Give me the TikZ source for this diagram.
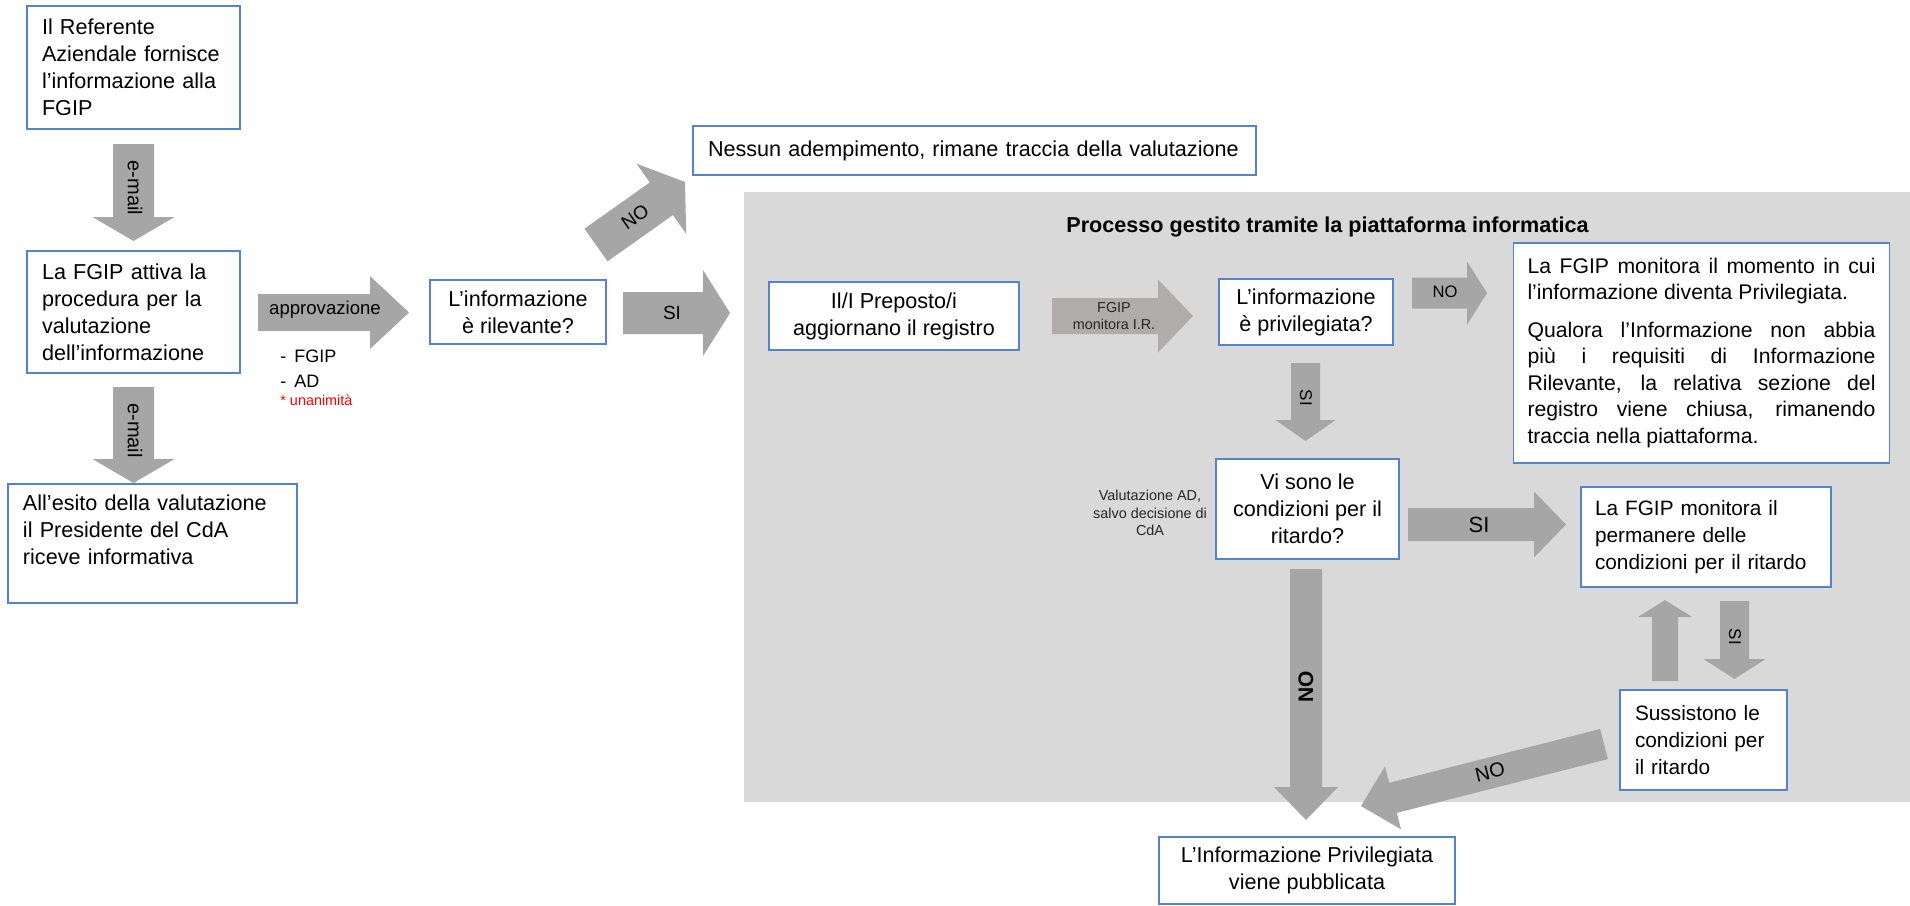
\documentclass[tikz,border=0pt]{standalone}
\usepackage{fontspec}
\setmainfont{Liberation Sans}
\usetikzlibrary{calc}
\definecolor{boxblue}{RGB}{84,130,205}
\definecolor{arrowgrey}{RGB}{166,166,166}
\definecolor{fgipgrey}{RGB}{176,172,172}
\definecolor{bggrey}{RGB}{217,217,217}
\definecolor{redtxt}{RGB}{255,0,0}
\definecolor{darktxt}{RGB}{38,38,38}
\newcommand\fs[2]{\fontsize{#1}{#2}\selectfont}
% block arrow from named tail #2 to named tip #3; shaft width #4, head width #5, head length #6 (px)
\newcommand\blockarrow[6][]{%
  \pgfmathsetmacro\baS{#4*0.25}%
  \pgfmathsetmacro\baH{#5*0.25}%
  \pgfmathsetmacro\baL{#6*0.5}%
  \coordinate (bah) at ($(#3)!\baL pt!(#2)$);
  \fill[arrowgrey,#1] ($(#2)!\baS pt!90:(#3)$) -- ($(bah)!\baS pt!-90:(#2)$) -- ($(bah)!\baH pt!-90:(#2)$) -- (#3) -- ($(bah)!\baH pt!90:(#2)$) -- ($(bah)!\baS pt!90:(#2)$) -- ($(#2)!\baS pt!-90:(#3)$) -- cycle;
}
\tikzset{
  flowbox/.style={draw=boxblue, line width=0.6pt, fill=white, inner ysep=0pt, font=\fs{10.8}{13.5}},
  leftbox/.style={flowbox, align=left, inner xsep=7.5pt},
  centerbox/.style={flowbox, align=center, inner xsep=0pt},
  arrlabel/.style={inner sep=0pt, text=black}
}
\begin{document}
\begin{tikzpicture}[x=0.5pt,y=-0.5pt]
\useasboundingbox (0,0) rectangle (1910,905);
\fill[bggrey] (744,192) rectangle (1910,802);

% arrow end points
\coordinate (a1s) at (133.5,144);  \coordinate (a1e) at (133.5,241);
\coordinate (a2s) at (133.5,387);  \coordinate (a2e) at (133.5,483);
\coordinate (a3s) at (258,312.5);  \coordinate (a3e) at (409,312.5);
\coordinate (a4s) at (623,313);    \coordinate (a4e) at (730,313);
\coordinate (a5s) at (596,245);    \coordinate (a5e) at (685,182);
\coordinate (a6s) at (1052,316);   \coordinate (a6e) at (1193,316);
\coordinate (a7s) at (1412,293);   \coordinate (a7e) at (1487,293);
\coordinate (a8s) at (1305.5,363); \coordinate (a8e) at (1305.5,441);
\coordinate (a9s) at (1408,524.5); \coordinate (a9e) at (1566,524.5);
\coordinate (a10s) at (1665,681);  \coordinate (a10e) at (1665,600);
\coordinate (a11s) at (1734.5,601);\coordinate (a11e) at (1734.5,679);
\coordinate (a12s) at (1306,569);  \coordinate (a12e) at (1306,820);
\coordinate (a13s) at (1604,744);  \coordinate (a13e) at (1361,806);

\blockarrow{a1s}{a1e}{41}{82}{24}
\blockarrow{a2s}{a2e}{41}{82}{24}
\blockarrow{a3s}{a3e}{37}{73}{39}
\blockarrow{a4s}{a4e}{42}{86}{27}
\blockarrow{a5s}{a5e}{40}{86}{29}
\blockarrow[fgipgrey]{a6s}{a6e}{36}{73}{35}
\blockarrow{a7s}{a7e}{31}{63}{20}
\blockarrow{a8s}{a8e}{29}{60}{21}
\blockarrow{a9s}{a9e}{33}{66}{32}
\blockarrow{a10s}{a10e}{26}{54}{17}
\blockarrow{a11s}{a11e}{29}{62}{20}
\blockarrow{a12s}{a12e}{32}{64}{33}
\blockarrow{a13s}{a13e}{31}{65}{33}

% boxes
\node[leftbox, text width=91.5pt, minimum height=61.5pt] (b1) at (133.5,67.5) {Il~Referente\\Aziendale~fornisce\\l’informazione~alla\\FGIP};
\node[leftbox, text width=91.5pt, minimum height=61pt] (b2) at (133.5,312) {La~FGIP~attiva~la\\procedura~per~la\\valutazione\\dell’informazione};
\node[leftbox, text width=129.5pt, minimum height=59.5pt] (b3) at (152.5,543.5) {All’esito~della~valutazione\\il~Presidente~del~CdA\\riceve~informativa\\\mbox{}};
\node[centerbox, minimum width=88pt, minimum height=32pt] (r) at (518,312) {L’informazione\\è rilevante?};
\node[leftbox, text width=266.5pt, minimum height=24.5pt] (n) at (974.5,150.5) {Nessun~adempimento,~rimane~traccia~della~valutazione};
\node[centerbox, minimum width=125pt, minimum height=34pt] (p) at (894,316) {Il/I Preposto/i\\aggiornano il registro};
\node[centerbox, minimum width=87pt, minimum height=33pt] (q) at (1306,312) {L’informazione\\è privilegiata?};
\node[flowbox, align=justify, text width=174pt, inner xsep=7pt, minimum height=110pt, font=\fs{10.6}{13.25}] (m) at (1701.5,353) {La FGIP monitora il momento in cui\linebreak l’informazione diventa Privilegiata.\par\vspace{5.5pt}Qualora l’Informazione non abbia\linebreak più i requisiti di Informazione\linebreak Rilevante, la relativa sezione del\linebreak registro viene chiusa, rimanendo\linebreak traccia nella piattaforma.};
\node[centerbox, minimum width=91.5pt, minimum height=50pt] (v) at (1307.5,509) {Vi sono le\\condizioni per il\\ritardo?};
\node[leftbox, font=\fs{10.4}{13.5}, text width=111pt, inner xsep=7pt, minimum height=50pt] (f) at (1706,537) {La~FGIP~monitora~il\\permanere~delle\\condizioni~per~il~ritardo};
\node[leftbox, font=\fs{10.4}{13.5}, text width=68.5pt, minimum height=50pt] (s) at (1703.5,740) {Sussistono~le\\condizioni~per\\il~ritardo};
\node[centerbox, minimum width=148pt, minimum height=33.5pt] (z) at (1307,870.5) {L’Informazione Privilegiata\\viene pubblicata};

% title and notes
\node[arrlabel, anchor=base west, font=\bfseries\fs{10.8}{13}] (title) at (1066,232) {Processo gestito tramite la piattaforma informatica};
\node[arrlabel, anchor=base west, font=\fs{9}{11}] (lfgip) at (280,362) {-\hspace{4pt}FGIP};
\node[arrlabel, anchor=base west, font=\fs{9}{11}] (lad) at (280,387) {-\hspace{4pt}AD};
\node[arrlabel, anchor=base west, font=\fs{7.2}{9}, text=redtxt] (lun) at (280,405) {* unanimità};
\node[arrlabel, align=center, font=\fs{7.2}{8.75}, text=darktxt] (val) at (1150,513) {Valutazione AD,\\salvo decisione di\\CdA};

% arrow labels
\node[arrlabel, rotate=-90, font=\fs{10}{12}] (le1) at (135,188) {e-mail};
\node[arrlabel, rotate=-90, font=\fs{10}{12}] (le2) at (135,430.5) {e-mail};
\node[arrlabel, font=\fs{9.3}{11}] (lapp) at (325,310) {approvazione};
\node[arrlabel, font=\fs{9.5}{11}] (lsi1) at (672,312.5) {SI};
\node[arrlabel, rotate=35, font=\fs{9.5}{11}] (lno1) at (635,217) {NO};
\node[arrlabel, align=center, font=\fs{7.2}{8.5}, text=darktxt] (lmon) at (1114,316) {FGIP\\monitora I.R.};
\node[arrlabel, font=\fs{8.3}{10}] (lno2) at (1445,292) {NO};
\node[arrlabel, rotate=-90, font=\fs{8.5}{10}] (lsi2) at (1306,398) {SI};
\node[arrlabel, font=\fs{11}{13}] (lsi3) at (1479,525) {SI};
\node[arrlabel, rotate=-90, font=\fs{8.5}{10}] (lsi4) at (1735,637) {SI};
\node[arrlabel, rotate=90, font=\bfseries\fs{10.5}{12}] (lno3) at (1306,687) {NO};
\node[arrlabel, rotate=14, font=\fs{10}{12}] (lno4) at (1490,772) {NO};
\end{tikzpicture}
\end{document}
